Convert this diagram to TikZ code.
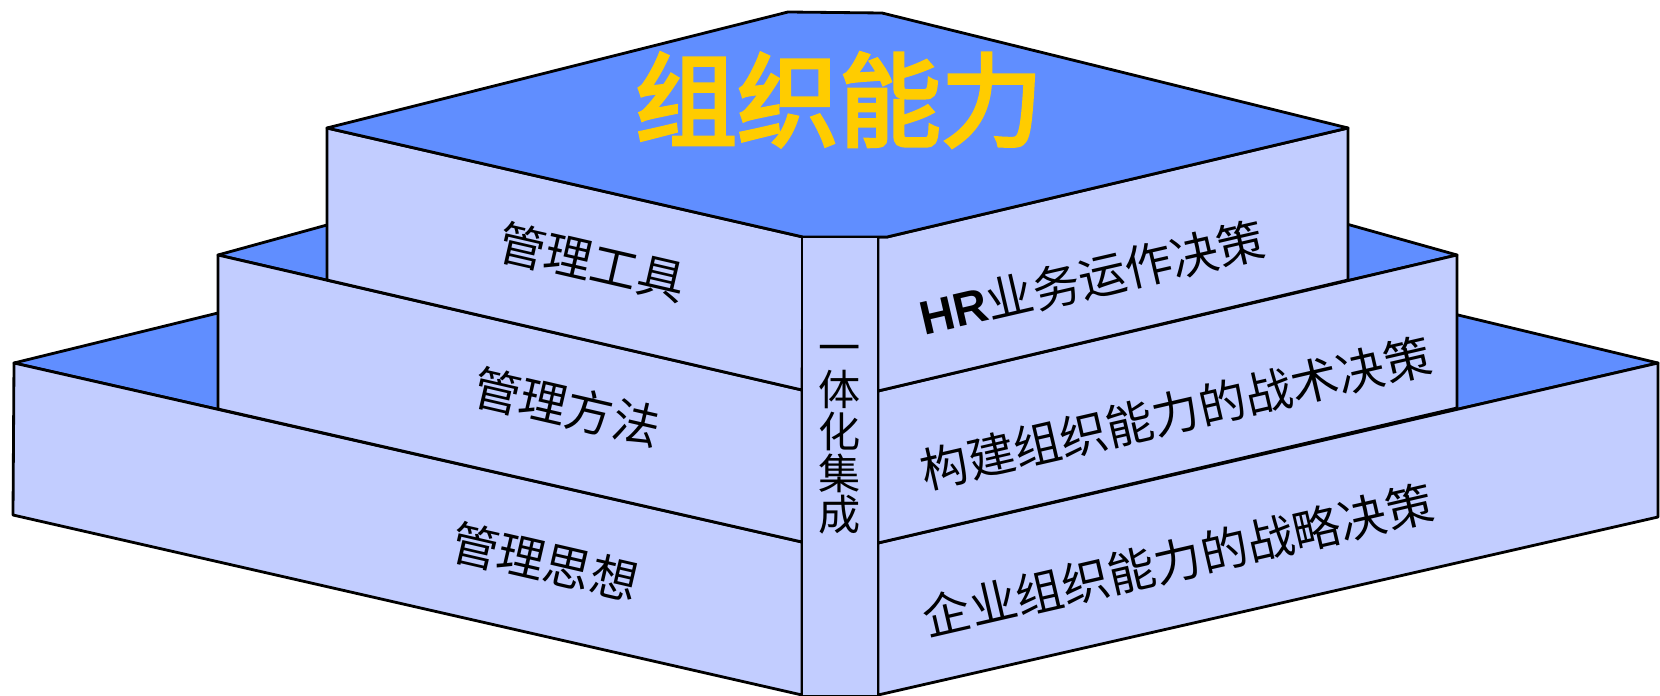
\documentclass[tikz,border=0pt]{standalone}
\usepackage{fontspec}
\setmainfont{Liberation Sans}
\newfontfamily\cjk{Noto Sans CJK SC}
\newfontfamily\cjktitle[FakeBold=3.5]{Noto Sans CJK SC}
\usepackage{tikz}
\definecolor{lidblue}{RGB}{96,142,255}
\definecolor{wallblue}{RGB}{194,205,255}
\definecolor{titlegold}{RGB}{255,204,0}
\tikzset{
  lid/.style={fill=lidblue, draw=black, line width=1.6pt, line join=round},
  wall/.style={fill=wallblue, draw=black, line width=1.6pt, line join=round},
  lbl/.style={font=\cjk\fontsize{27}{32}\selectfont, inner sep=0pt},
}

\begin{document}
\begin{tikzpicture}[x=0.02cm,y=-0.02cm]
    \useasboundingbox (0,0) rectangle (1660,696);
    % bottom tier
    \draw[lid] (14,363) -- (218,313) -- (837,165) -- (1458,315) -- (1658,363) -- (878,543) -- (802,542) -- cycle;
    \draw[wall] (14,363) -- (802,542) -- (802,695) -- (13,515) -- cycle;
    \draw[wall] (878,543) -- (1658,363) -- (1658,517) -- (878,695) -- cycle;
    % middle tier
    \draw[lid] (218,255) -- (327,225) -- (837,83) -- (1350,225) -- (1457,255) -- (878,391) -- (802,390) -- cycle;
    \draw[wall] (218,255) -- (802,390) -- (802,542) -- (218,409) -- cycle;
    \draw[wall] (878,391) -- (1457,255) -- (1457,408) -- (878,543) -- cycle;
    % top tier
    \draw[wall] (327,128) -- (803,237) -- (802,390) -- (327,280) -- cycle;
    \draw[wall] (878,237) -- (887,237) -- (1348,128) -- (1348,280) -- (878,391) -- cycle;
    \draw[lid] (327,128) -- (788,12) -- (882,13) -- (1348,128) -- (887,237) -- (803,237) -- cycle;
    % column
    \draw[wall] (802,237) rectangle (878,696);

    \node[font=\cjktitle\fontsize{58}{60}\selectfont, text=titlegold, inner sep=0pt] (cap) at (839,100) {组织能力};
    \node[lbl, rotate=-13] (tools) at (592,262) {管理工具};
    \node[lbl, rotate=-13] (methods) at (567,407) {管理方法};
    \node[lbl, rotate=-13] (ideas) at (545,562) {管理思想};
    \node[lbl, rotate=13] (hrops) at (1092,278) {{\rmfamily\bfseries HR}业务运作决策};
    \node[lbl, rotate=13] (tactic) at (1176,413) {构建组织能力的战术决策};
    \node[lbl, rotate=13] (strategy) at (1178,560) {企业组织能力的战略决策};
    \node[lbl, align=center, font=\cjk\fontsize{24}{23.8}\selectfont] (merge) at (840,440) {一\\体\\化\\集\\成};
\end{tikzpicture}
\end{document}
